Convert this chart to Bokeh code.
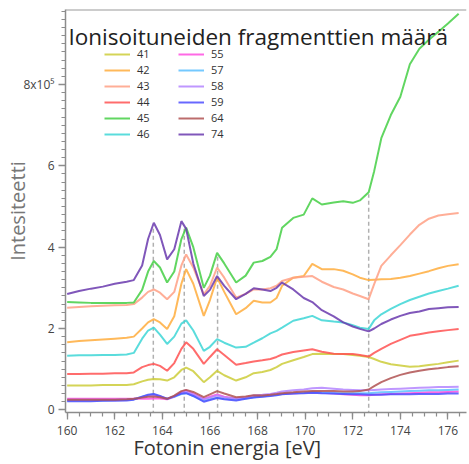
import math
from bokeh.plotting import figure
from bokeh.models import Range1d, Legend, LegendItem, Label, Span, FixedTicker, Title
from bokeh.embed import file_html
from bokeh.resources import INLINE

# ---------------- data ----------------
energy = [160.0, 160.5, 161.0, 161.5, 162.0, 162.5, 162.8, 163.15, 163.4, 163.64,
          163.9, 164.2, 164.5, 164.8, 165.0, 165.3, 165.74, 166.0, 166.3, 166.6,
          167.1, 167.5, 167.84, 168.2, 168.54, 168.8, 169.03, 169.5, 169.94, 170.3,
          170.7, 171.2, 171.6, 172.0, 172.3, 172.67, 172.9, 173.2, 173.6, 174.0,
          174.4, 174.8, 175.2, 175.6, 176.0, 176.45]

m41 = [0.6, 0.6, 0.6, 0.61, 0.61, 0.61, 0.63, 0.7, 0.74, 0.76, 0.75, 0.72, 0.8, 0.98, 1.04, 0.95,
       0.68, 0.8, 0.96, 0.85, 0.72, 0.8, 0.9, 0.93, 0.98, 1.05, 1.13, 1.22, 1.3, 1.37, 1.38, 1.37,
       1.37, 1.35, 1.33, 1.3, 1.25, 1.18, 1.12, 1.09, 1.06, 1.07, 1.1, 1.13, 1.17, 1.21]
m42 = [1.66, 1.69, 1.71, 1.73, 1.75, 1.77, 1.8, 2.0, 2.15, 2.23, 2.15, 1.99, 2.3, 3.1, 3.46, 3.1,
       2.31, 2.7, 3.25, 2.9, 2.35, 2.5, 2.68, 2.64, 2.64, 2.75, 3.05, 3.25, 3.29, 3.59, 3.46, 3.46,
       3.42, 3.33, 3.25, 3.19, 3.2, 3.21, 3.22, 3.25, 3.29, 3.35, 3.41, 3.48, 3.54, 3.58]
m43 = [2.51, 2.53, 2.55, 2.56, 2.57, 2.58, 2.6, 2.76, 2.9, 2.96, 2.88, 2.72, 2.9, 3.55, 3.82, 3.5,
       2.84, 3.05, 3.5, 3.25, 2.76, 2.85, 2.96, 2.96, 2.99, 3.05, 3.17, 3.25, 3.27, 3.29, 3.15, 3.02,
       2.96, 2.86, 2.8, 2.72, 3.09, 3.54, 3.8, 4.05, 4.31, 4.55, 4.7, 4.78, 4.81, 4.84]
m44 = [0.88, 0.88, 0.89, 0.89, 0.9, 0.9, 0.92, 1.05, 1.1, 1.13, 1.08, 0.96, 1.15, 1.5, 1.66, 1.5,
       1.13, 1.3, 1.49, 1.35, 1.11, 1.15, 1.19, 1.22, 1.25, 1.3, 1.36, 1.42, 1.46, 1.49, 1.43, 1.38,
       1.37, 1.37, 1.35, 1.31, 1.4, 1.5, 1.62, 1.72, 1.82, 1.86, 1.9, 1.93, 1.96, 1.99]
m45 = [2.65, 2.64, 2.63, 2.63, 2.63, 2.63, 2.64, 2.95, 3.4, 3.66, 3.5, 3.13, 3.4, 4.2, 4.48, 4.0,
       3.0, 3.3, 3.86, 3.6, 3.13, 3.3, 3.62, 3.66, 3.76, 3.95, 4.48, 4.72, 4.8, 5.2, 5.05, 5.1,
       5.13, 5.09, 5.15, 5.35, 5.87, 6.68, 7.25, 7.7, 8.5, 8.88, 9.1, 9.3, 9.5, 9.74]
m46 = [1.33, 1.34, 1.34, 1.35, 1.35, 1.36, 1.4, 1.75, 1.95, 2.02, 1.85, 1.62, 1.8, 2.12, 2.2, 1.95,
       1.45, 1.55, 1.74, 1.65, 1.53, 1.55, 1.65, 1.76, 1.88, 1.94, 2.02, 2.19, 2.25, 2.31, 2.2, 2.17,
       2.15, 2.08, 2.02, 1.99, 2.2, 2.35, 2.48, 2.6, 2.7, 2.78, 2.86, 2.92, 2.98, 3.05]
m55 = [0.27, 0.27, 0.27, 0.27, 0.27, 0.27, 0.27, 0.27, 0.27, 0.28, 0.28, 0.26, 0.32, 0.44, 0.48, 0.4,
       0.27, 0.32, 0.38, 0.32, 0.27, 0.3, 0.33, 0.35, 0.37, 0.38, 0.39, 0.4, 0.42, 0.43, 0.42, 0.4,
       0.38, 0.37, 0.36, 0.36, 0.37, 0.38, 0.39, 0.4, 0.41, 0.42, 0.43, 0.43, 0.44, 0.45]
m57 = [0.23, 0.23, 0.23, 0.23, 0.24, 0.24, 0.26, 0.32, 0.36, 0.38, 0.33, 0.27, 0.32, 0.39, 0.41, 0.34,
       0.22, 0.26, 0.3, 0.27, 0.25, 0.28, 0.31, 0.33, 0.35, 0.37, 0.39, 0.41, 0.42, 0.43, 0.42, 0.41,
       0.41, 0.41, 0.41, 0.41, 0.42, 0.43, 0.44, 0.45, 0.46, 0.47, 0.48, 0.48, 0.49, 0.5]
m58 = [0.25, 0.25, 0.25, 0.25, 0.25, 0.26, 0.27, 0.31, 0.34, 0.36, 0.33, 0.28, 0.33, 0.42, 0.45, 0.38,
       0.26, 0.3, 0.35, 0.31, 0.28, 0.31, 0.35, 0.37, 0.39, 0.42, 0.45, 0.48, 0.5, 0.53, 0.54, 0.52,
       0.5, 0.49, 0.48, 0.48, 0.49, 0.5, 0.51, 0.52, 0.53, 0.54, 0.55, 0.56, 0.56, 0.57]
m59 = [0.21, 0.21, 0.21, 0.22, 0.22, 0.23, 0.25, 0.32, 0.37, 0.39, 0.34, 0.27, 0.33, 0.4, 0.41, 0.34,
       0.2, 0.24, 0.29, 0.26, 0.23, 0.27, 0.3, 0.32, 0.34, 0.36, 0.38, 0.4, 0.41, 0.42, 0.41, 0.4,
       0.39, 0.38, 0.38, 0.37, 0.37, 0.37, 0.38, 0.38, 0.38, 0.39, 0.39, 0.39, 0.4, 0.4]
m64 = [0.25, 0.25, 0.25, 0.25, 0.25, 0.26, 0.27, 0.3, 0.32, 0.33, 0.31, 0.27, 0.35, 0.46, 0.49, 0.44,
       0.31, 0.38, 0.46, 0.4, 0.31, 0.33, 0.36, 0.35, 0.37, 0.39, 0.41, 0.43, 0.45, 0.46, 0.46, 0.46,
       0.45, 0.45, 0.46, 0.5, 0.58, 0.68, 0.78, 0.86, 0.92, 0.96, 1.0, 1.02, 1.05, 1.07]
m74 = [2.85, 2.92, 2.98, 3.03, 3.1, 3.15, 3.19, 3.55, 4.2, 4.6, 4.3, 3.7, 3.95, 4.64, 4.45, 3.6,
       2.8, 2.95, 3.29, 3.05, 2.72, 2.85, 2.99, 2.96, 2.92, 3.0, 3.13, 2.96, 2.75, 2.65, 2.45, 2.3,
       2.15, 2.05, 1.99, 1.93, 2.0, 2.11, 2.22, 2.31, 2.38, 2.42, 2.48, 2.5, 2.52, 2.53]

labels_col1 = ["41", "42", "43", "44", "45", "46"]
labels_col2 = ["55", "57", "58", "59", "64", "74"]
series_col1 = [m41, m42, m43, m44, m45, m46]
series_col2 = [m55, m57, m58, m59, m64, m74]
colors_col1 = ["#cccc3a", "#ffad3d", "#ffa085", "#ff5252", "#45cf45", "#3dd6d6"]
colors_col2 = ["#ff4fe0", "#5cc0ff", "#b485ff", "#4d4dff", "#b05252", "#6a3aae"]

peak_energies = [163.62, 164.92, 166.32, 172.67]
peak_tops = [4.5, 4.5, 3.8, 5.3]

x_major = [160, 162, 164, 166, 168, 170, 172, 174, 176]
x_minor = [159.5 + 0.5 * i for i in range(37)]
y_major = [0, 2, 4, 6, 8]
y_minor = [round(0.2 * i, 2) for i in range(50)]
y_tick_text = {0: "0", 2: "2", 4: "4", 6: "6", 8: "8x10\u2075"}

title_text = "Ionisoituneiden fragmenttien m\u00e4\u00e4r\u00e4"
x_label_text = "Fotonin energia [eV]"
y_label_text = "Intesiteetti"

# ---------------- figure ----------------
FONT = "Open Sans"
Y_TOP = 9.845
p = figure(width=467, height=462, output_backend="svg", toolbar_location=None,
           x_range=Range1d(159.93, 176.78), y_range=Range1d(-0.066, Y_TOP),
           min_border_left=65, min_border_right=1, min_border_top=9, min_border_bottom=50)
p.outline_line_color = None
p.grid.visible = False

for ax in (p.xaxis[0], p.yaxis[0]):
    ax.axis_line_color = "#8c8c8c"
    ax.axis_line_width = 1.5
    ax.major_tick_line_color = "#8c8c8c"
    ax.minor_tick_line_color = "#8c8c8c"
    ax.major_tick_line_width = 1.3
    ax.minor_tick_line_width = 1.2
    ax.major_tick_in = 0
    ax.major_tick_out = 7
    ax.minor_tick_in = 0
    ax.minor_tick_out = 4
    ax.major_label_text_font = FONT
    ax.major_label_text_font_size = "12px"
    ax.major_label_text_color = "#444444"

p.xaxis.ticker = FixedTicker(ticks=x_major, minor_ticks=x_minor)
p.yaxis.ticker = FixedTicker(ticks=y_major, minor_ticks=y_minor)
p.yaxis.major_label_overrides = y_tick_text
p.xaxis.major_label_standoff = 6
p.yaxis.major_label_standoff = 4

p.yaxis.axis_label = y_label_text
p.yaxis.axis_label_text_font = FONT
p.yaxis.axis_label_text_font_size = "20px"
p.yaxis.axis_label_text_font_style = "normal"
p.yaxis.axis_label_text_color = "#777777"
p.yaxis.axis_label_standoff = -11

xt = Title(text=x_label_text, align="left", offset=68, standoff=-11,
           text_font=FONT, text_font_size="20px", text_font_style="normal",
           text_color="#333333")
p.add_layout(xt, "below")

p.add_layout(Span(location=Y_TOP, dimension="width", line_color="#9a9a9a", line_width=2))

p.segment(x0=peak_energies, y0=[-0.12] * len(peak_energies), x1=peak_energies, y1=peak_tops,
          line_color="#b0b0b0", line_dash="4 3", line_width=1.5)

renderers1 = []
for vals, col in zip(series_col1, colors_col1):
    renderers1.append(p.line(energy, vals, line_color=col, line_width=2, line_alpha=0.85))
renderers2 = []
for vals, col in zip(series_col2, colors_col2):
    renderers2.append(p.line(energy, vals, line_color=col, line_width=2, line_alpha=0.85))


def make_legend(labels, renderers, loc):
    lg = Legend(items=[LegendItem(label=l, renderers=[r]) for l, r in zip(labels, renderers)],
                location=loc, orientation="vertical")
    lg.background_fill_alpha = 0
    lg.border_line_color = None
    lg.padding = 0
    lg.margin = 0
    lg.spacing = 1
    lg.glyph_width = 26
    lg.glyph_height = 14
    lg.label_height = 14
    lg.label_standoff = 7
    lg.label_text_font = FONT
    lg.label_text_font_size = "11px"
    lg.label_text_color = "#333333"
    return lg


p.add_layout(make_legend(labels_col1, renderers1, (39, 271)))
p.add_layout(make_legend(labels_col2, renderers2, (113, 271)))

p.add_layout(Label(x=3, y=376, x_units="screen", y_units="screen", text=title_text,
                   text_font=FONT, text_font_size="22.5px", text_color="#222222",
                   text_baseline="alphabetic"))

open("out.html", "w").write(file_html(p, INLINE))
